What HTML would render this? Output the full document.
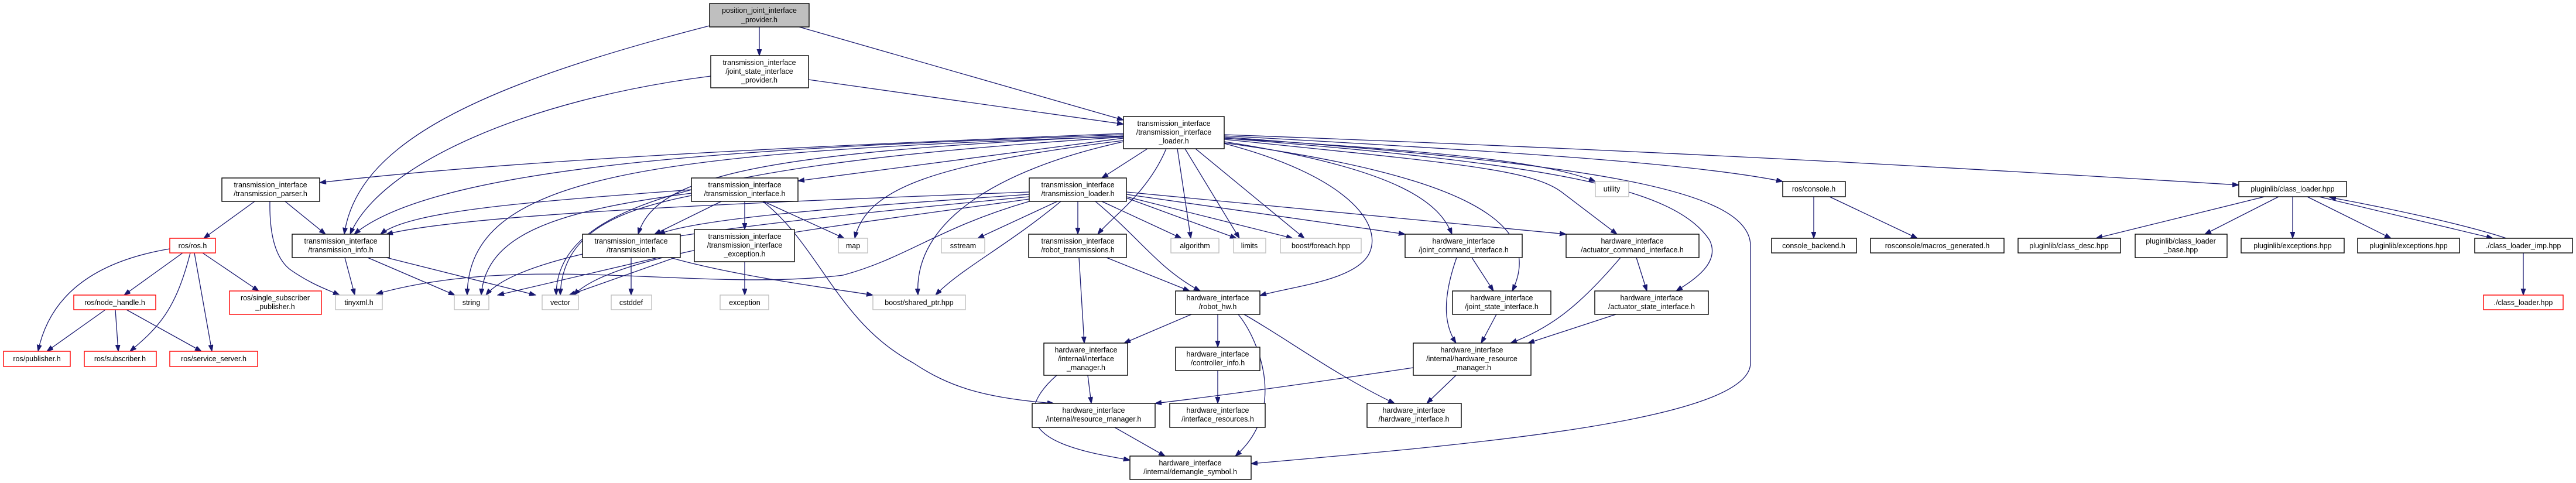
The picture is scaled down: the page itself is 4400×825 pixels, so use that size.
<!DOCTYPE html>
<html><head><meta charset="utf-8"><style>
html,body{margin:0;padding:0;background:#fff;}
svg{display:block;}
text{font-family:"Liberation Sans",sans-serif;font-size:12.5px;fill:#000;text-anchor:middle;}
.e{fill:none;stroke:#191970;stroke-width:1.3;marker-end:url(#a);}
.n{fill:#fff;stroke:#000;stroke-width:1.4;}
.g{fill:#fff;stroke:#bfbfbf;stroke-width:1.4;}
.r{fill:#fff;stroke:#ff0000;stroke-width:1.4;}
</style></head><body>
<svg width="4400" height="825" viewBox="0 0 4400 825" xmlns="http://www.w3.org/2000/svg">
<defs><marker id="a" markerUnits="userSpaceOnUse" markerWidth="12" markerHeight="10" refX="11" refY="4" orient="auto"><path d="M0,0 L11,4 L0,8 z" fill="#191970" stroke="#191970"/></marker></defs>
<g>
<path class="e" d="M1297,46 L1297,95"/>
<path class="e" d="M1212,44 C800,150 610,250 588,400"/>
<path class="e" d="M1365,46 L1919,205"/>
<path class="e" d="M1214,130 C900,170 650,280 598,400"/>
<path class="e" d="M1381,136 L1919,212"/>
<path class="e" d="M1919,228 C1500,245 900,270 546,312"/>
<path class="e" d="M1919,230 C1400,250 760,270 605,400"/>
<path class="e" d="M1919,236 L1363,309"/>
<path class="e" d="M1960,254 L1882,304"/>
<path class="e" d="M1919,232 C1300,260 1120,300 1090,400"/>
<path class="e" d="M1992,254 C1960,330 1900,370 1875,400"/>
<path class="e" d="M1919,233 C1100,260 800,300 798,504"/>
<path class="e" d="M1919,234 C1200,280 950,350 950,504"/>
<path class="e" d="M1919,240 C1600,280 1480,320 1460,407"/>
<path class="e" d="M1919,242 C1700,290 1560,380 1568,504"/>
<path class="e" d="M2011,254 L2034,407"/>
<path class="e" d="M2024,254 L2117,407"/>
<path class="e" d="M2042,254 L2228,407"/>
<path class="e" d="M2091,236 C2500,260 2650,280 2725,310"/>
<path class="e" d="M2091,245 C2300,300 2360,380 2340,430 C2320,480 2200,490 2152,505"/>
<path class="e" d="M2091,242 C2400,290 2460,350 2480,400"/>
<path class="e" d="M2091,244 C2500,300 2640,380 2583,497"/>
<path class="e" d="M2091,238 C2500,280 2620,290 2670,330 L2762,400"/>
<path class="e" d="M2091,236 C2650,280 2860,320 2920,410 C2940,450 2890,480 2863,497"/>
<path class="e" d="M2091,234 C2700,280 2990,320 2990,420 L2990,620 C2990,720 2500,760 2137,792"/>
<path class="e" d="M2091,232 C2600,260 2900,280 3045,310"/>
<path class="e" d="M2091,230 C2900,260 3400,290 3824,316"/>
<path class="e" d="M435,344 L348,407"/>
<path class="e" d="M461,344 C460,400 470,440 495,460 C530,485 560,495 580,504"/>
<path class="e" d="M487,344 L556,400"/>
<path class="e" d="M589,440 L606,504"/>
<path class="e" d="M628,440 L777,504"/>
<path class="e" d="M660,440 L915,504"/>
<path class="e" d="M290,425 C200,440 90,480 65,600"/>
<path class="e" d="M312,432 L212,504"/>
<path class="e" d="M325,432 C300,530 270,560 222,600"/>
<path class="e" d="M332,432 L362,600"/>
<path class="e" d="M346,432 L442,497"/>
<path class="e" d="M180,529 L80,600"/>
<path class="e" d="M197,529 L202,600"/>
<path class="e" d="M216,529 L344,600"/>
<path class="e" d="M1232,344 L1118,400"/>
<path class="e" d="M1272,344 L1272,392"/>
<path class="e" d="M1304,344 L1442,407"/>
<path class="e" d="M1303,344 C1400,420 1430,550 1560,620 C1620,660 1680,680 1800,689"/>
<path class="e" d="M1181,330 C950,360 830,400 822,504"/>
<path class="e" d="M1181,334 C1050,360 960,400 957,504"/>
<path class="e" d="M1181,324 C900,345 700,360 650,400"/>
<path class="e" d="M1272,447 L1272,504"/>
<path class="e" d="M1124,440 L850,504"/>
<path class="e" d="M1153,440 L972,504"/>
<path class="e" d="M1078,440 L1078,504"/>
<path class="e" d="M1145,440 C1250,470 1400,490 1491,504"/>
<path class="e" d="M1758,328 C1300,345 800,365 660,400"/>
<path class="e" d="M1758,332 C1500,350 1200,370 1125,400"/>
<path class="e" d="M1758,344 C1600,390 1550,440 1440,470 C1200,500 900,430 643,502"/>
<path class="e" d="M1758,336 C1300,380 900,420 830,504"/>
<path class="e" d="M1758,340 C1400,390 1050,430 980,504"/>
<path class="e" d="M1806,344 L1670,407"/>
<path class="e" d="M1812,344 C1720,420 1640,460 1598,504"/>
<path class="e" d="M1841,344 L1841,400"/>
<path class="e" d="M1871,344 C1950,410 1980,460 2050,497"/>
<path class="e" d="M1882,344 L2018,407"/>
<path class="e" d="M1924,338 L2112,407"/>
<path class="e" d="M1924,336 L2208,407"/>
<path class="e" d="M1924,332 L2400,400"/>
<path class="e" d="M1924,328 L2675,400"/>
<path class="e" d="M1843,440 L1852,586"/>
<path class="e" d="M1890,440 L2032,497"/>
<path class="e" d="M2035,537 L1920,586"/>
<path class="e" d="M2080,537 L2080,593"/>
<path class="e" d="M2115,537 C2150,580 2200,700 2110,779"/>
<path class="e" d="M2125,537 C2200,580 2280,640 2382,689"/>
<path class="e" d="M1858,641 L1864,689"/>
<path class="e" d="M1805,641 C1760,680 1740,730 1820,760 C1860,775 1900,780 1930,786"/>
<path class="e" d="M2080,633 L2080,689"/>
<path class="e" d="M2414,628 C2200,660 2050,680 1973,689"/>
<path class="e" d="M2487,641 L2437,689"/>
<path class="e" d="M1904,730 L1990,779"/>
<path class="e" d="M2514,440 L2551,497"/>
<path class="e" d="M2488,440 C2460,520 2470,560 2487,586"/>
<path class="e" d="M2556,537 L2530,586"/>
<path class="e" d="M2795,440 L2813,497"/>
<path class="e" d="M2768,440 C2700,520 2650,560 2580,586"/>
<path class="e" d="M2760,537 L2610,586"/>
<path class="e" d="M3098,336 L3098,407"/>
<path class="e" d="M3125,336 L3275,407"/>
<path class="e" d="M3868,336 L3580,407"/>
<path class="e" d="M3892,336 L3766,400"/>
<path class="e" d="M3916,336 L3916,407"/>
<path class="e" d="M3941,336 L4084,407"/>
<path class="e" d="M3961,336 L4258,407"/>
<path class="e" d="M4281,407 C4200,380 4050,350 3979,337"/>
<path class="e" d="M4310,432 L4310,504"/>
</g>
<g>
<rect x="1212" y="6" width="170" height="40" fill="#bfbfbf" stroke="#000" stroke-width="1.4"/><text x="1297" y="22">position_joint_interface</text><text x="1297" y="38">_provider.h</text>
<rect class="n" x="1214" y="95" width="167" height="55"/><text x="1297" y="111">transmission_interface</text><text x="1297" y="126">/joint_state_interface</text><text x="1297" y="141">_provider.h</text>
<rect class="n" x="1919" y="199" width="172" height="55"/><text x="2005" y="215">transmission_interface</text><text x="2005" y="230">/transmission_interface</text><text x="2005" y="245">_loader.h</text>
<rect class="n" x="379" y="304" width="167" height="40"/><text x="462" y="320">transmission_interface</text><text x="462" y="335">/transmission_parser.h</text>
<rect class="n" x="499" y="400" width="166" height="40"/><text x="582" y="416">transmission_interface</text><text x="582" y="431">/transmission_info.h</text>
<rect class="r" x="290" y="407" width="78" height="25"/><text x="329" y="424">ros/ros.h</text>
<rect class="r" x="126" y="504" width="140" height="25"/><text x="196" y="521">ros/node_handle.h</text>
<rect class="r" x="392" y="497" width="157" height="40"/><text x="470" y="513">ros/single_subscriber</text><text x="470" y="528">_publisher.h</text>
<rect class="g" x="573" y="504" width="80" height="25"/><text x="613" y="521">tinyxml.h</text>
<rect class="g" x="776" y="504" width="59" height="25"/><text x="805" y="521">string</text>
<rect class="g" x="926" y="504" width="62" height="25"/><text x="957" y="521">vector</text>
<rect class="g" x="1044" y="504" width="69" height="25"/><text x="1078" y="521">cstddef</text>
<rect class="r" x="6" y="600" width="114" height="26"/><text x="63" y="617">ros/publisher.h</text>
<rect class="r" x="144" y="600" width="123" height="26"/><text x="205" y="617">ros/subscriber.h</text>
<rect class="r" x="290" y="600" width="150" height="26"/><text x="365" y="617">ros/service_server.h</text>
<rect class="n" x="995" y="400" width="167" height="40"/><text x="1078" y="416">transmission_interface</text><text x="1078" y="431">/transmission.h</text>
<rect class="n" x="1181" y="304" width="182" height="40"/><text x="1272" y="320">transmission_interface</text><text x="1272" y="335">/transmission_interface.h</text>
<rect class="n" x="1758" y="304" width="166" height="40"/><text x="1841" y="320">transmission_interface</text><text x="1841" y="335">/transmission_loader.h</text>
<rect class="n" x="1186" y="392" width="171" height="55"/><text x="1272" y="408">transmission_interface</text><text x="1272" y="423">/transmission_interface</text><text x="1272" y="438">_exception.h</text>
<rect class="g" x="1432" y="407" width="50" height="25"/><text x="1457" y="424">map</text>
<rect class="g" x="1608" y="407" width="74" height="25"/><text x="1645" y="424">sstream</text>
<rect class="n" x="1757" y="400" width="167" height="40"/><text x="1841" y="416">transmission_interface</text><text x="1841" y="431">/robot_transmissions.h</text>
<rect class="g" x="2000" y="407" width="82" height="25"/><text x="2041" y="424">algorithm</text>
<rect class="g" x="2107" y="407" width="55" height="25"/><text x="2134" y="424">limits</text>
<rect class="g" x="2187" y="407" width="138" height="25"/><text x="2256" y="424">boost/foreach.hpp</text>
<rect class="g" x="1230" y="504" width="83" height="25"/><text x="1272" y="521">exception</text>
<rect class="g" x="1491" y="504" width="158" height="25"/><text x="1570" y="521">boost/shared_ptr.hpp</text>
<rect class="n" x="2008" y="497" width="144" height="40"/><text x="2080" y="513">hardware_interface</text><text x="2080" y="528">/robot_hw.h</text>
<rect class="n" x="1783" y="586" width="143" height="55"/><text x="1855" y="602">hardware_interface</text><text x="1855" y="617">/internal/interface</text><text x="1855" y="632">_manager.h</text>
<rect class="n" x="2008" y="593" width="144" height="40"/><text x="2080" y="609">hardware_interface</text><text x="2080" y="624">/controller_info.h</text>
<rect class="n" x="1763" y="689" width="210" height="41"/><text x="1868" y="705">hardware_interface</text><text x="1868" y="720">/internal/resource_manager.h</text>
<rect class="n" x="1998" y="689" width="163" height="41"/><text x="2080" y="705">hardware_interface</text><text x="2080" y="720">/interface_resources.h</text>
<rect class="n" x="1930" y="779" width="207" height="40"/><text x="2033" y="795">hardware_interface</text><text x="2033" y="810">/internal/demangle_symbol.h</text>
<rect class="g" x="2725" y="310" width="57" height="26"/><text x="2753" y="327">utility</text>
<rect class="n" x="3045" y="310" width="107" height="26"/><text x="3098" y="327">ros/console.h</text>
<rect class="n" x="2400" y="400" width="200" height="40"/><text x="2500" y="416">hardware_interface</text><text x="2500" y="431">/joint_command_interface.h</text>
<rect class="n" x="2675" y="400" width="227" height="40"/><text x="2788" y="416">hardware_interface</text><text x="2788" y="431">/actuator_command_interface.h</text>
<rect class="n" x="3026" y="407" width="145" height="25"/><text x="3098" y="424">console_backend.h</text>
<rect class="n" x="3195" y="407" width="228" height="25"/><text x="3309" y="424">rosconsole/macros_generated.h</text>
<rect class="n" x="2481" y="497" width="168" height="40"/><text x="2565" y="513">hardware_interface</text><text x="2565" y="528">/joint_state_interface.h</text>
<rect class="n" x="2724" y="497" width="194" height="40"/><text x="2821" y="513">hardware_interface</text><text x="2821" y="528">/actuator_state_interface.h</text>
<rect class="n" x="2414" y="586" width="201" height="55"/><text x="2514" y="602">hardware_interface</text><text x="2514" y="617">/internal/hardware_resource</text><text x="2514" y="632">_manager.h</text>
<rect class="n" x="2335" y="689" width="161" height="41"/><text x="2415" y="705">hardware_interface</text><text x="2415" y="720">/hardware_interface.h</text>
<rect class="n" x="3824" y="310" width="184" height="26"/><text x="3916" y="327">pluginlib/class_loader.hpp</text>
<rect class="n" x="3447" y="407" width="175" height="25"/><text x="3534" y="424">pluginlib/class_desc.hpp</text>
<rect class="n" x="3647" y="400" width="157" height="40"/><text x="3725" y="416">pluginlib/class_loader</text><text x="3725" y="431">_base.hpp</text>
<rect class="n" x="3828" y="407" width="176" height="25"/><text x="3916" y="424">pluginlib/exceptions.hpp</text>
<rect class="n" x="4027" y="407" width="174" height="25"/><text x="4114" y="424">pluginlib/exceptions.hpp</text>
<rect class="n" x="4227" y="407" width="167" height="25"/><text x="4310" y="424">./class_loader_imp.hpp</text>
<rect class="r" x="4242" y="504" width="136" height="25"/><text x="4310" y="521">./class_loader.hpp</text>
</g>
</svg>
</body></html>
